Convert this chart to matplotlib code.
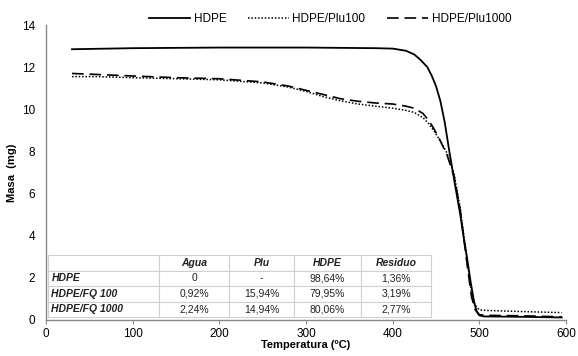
import matplotlib.pyplot as plt

plt.rcParams['font.family'] = ['Liberation Sans', 'DejaVu Sans']

# HDPE (linea continua)
t_hdpe = [30, 100, 200, 300, 380, 400, 415, 425, 432, 440, 445, 450, 455,
          460, 465, 472, 478, 482, 486, 490, 494, 497, 500, 505, 550, 595]
m_hdpe = [12.85, 12.9, 12.93, 12.93, 12.9, 12.88, 12.78, 12.6, 12.35, 12.0,
          11.6, 11.1, 10.4, 9.4, 8.1, 6.4, 5.0, 3.9, 2.9, 1.8, 0.85, 0.4,
          0.22, 0.17, 0.15, 0.12]

# HDPE/Plu100 (punteado) y HDPE/Plu1000 (discontinuo)
t_plu = [30, 60, 100, 150, 200, 250, 280, 300, 320, 340, 360, 380, 400, 415,
         425, 435, 442, 448, 455, 463, 471, 478, 486, 491, 495, 500, 510, 550,
         595]
m_plu100 = [11.55, 11.55, 11.5, 11.45, 11.4, 11.25, 11.05, 10.85, 10.6, 10.4,
            10.25, 10.15, 10.05, 9.95, 9.85, 9.6, 9.3, 8.95, 8.5, 7.9, 6.9,
            5.3, 2.8, 1.3, 0.7, 0.48, 0.45, 0.4, 0.35]
m_plu1000 = [11.7, 11.65, 11.58, 11.5, 11.45, 11.3, 11.1, 10.9, 10.7, 10.5,
             10.38, 10.3, 10.25, 10.15, 10.05, 9.8, 9.45, 9.05, 8.5, 7.8, 6.8,
             5.2, 2.6, 1.1, 0.5, 0.25, 0.22, 0.2, 0.15]

col_labels = ['', 'Agua', 'Plu', 'HDPE', 'Residuo']
row_labels = ['HDPE', 'HDPE/FQ 100', 'HDPE/FQ 1000']
agua = ['0', '0,92%', '2,24%']
plu = ['-', '15,94%', '14,94%']
hdpe = ['98,64%', '79,95%', '80,06%']
residuo = ['1,36%', '3,19%', '2,77%']

fig = plt.figure(figsize=(5.78, 3.56), dpi=100)
ax = fig.add_axes([46 / 578, 36 / 356, 520 / 578, 295 / 356])

ax.plot(t_hdpe, m_hdpe, color='black', lw=1.3, label='HDPE')
ax.plot(t_plu, m_plu100, color='black', lw=1.1, ls=(0, (1, 1.2)), label='HDPE/Plu100')
ax.plot(t_plu, m_plu1000, color='black', lw=1.2, ls=(0, (7, 3.5)), label='HDPE/Plu1000')

ax.set_xlim(0, 600)
ax.set_ylim(0, 14)
ax.set_xticks(range(0, 601, 100))
ax.set_yticks(range(0, 15, 2))
ax.tick_params(axis='x', direction='out', length=3, color='#888888', labelsize=8.5, pad=3)
ax.tick_params(axis='y', length=0, labelsize=8.5, pad=8)
for s in ['top', 'right']:
    ax.spines[s].set_visible(False)
for s in ['left', 'bottom']:
    ax.spines[s].set_color('#888888')
    ax.spines[s].set_linewidth(1)

ax.set_xlabel('Temperatura (ºC)', fontsize=8, fontweight='bold', labelpad=0)
ax.set_ylabel('Masa  (mg)', fontsize=8, fontweight='bold', labelpad=3)

fig.legend(loc='center', bbox_to_anchor=(330 / 578, 1 - 19 / 356), ncol=3,
           frameon=False, fontsize=8.5, handlelength=3.5, columnspacing=1.8,
           handletextpad=0.3)

cells = [[row_labels[i], agua[i], plu[i], hdpe[i], residuo[i]] for i in range(3)]
widths = [111, 70, 65, 67, 70]
tot = sum(widths)
tab = ax.table(cellText=[col_labels] + cells,
               colWidths=[w / tot for w in widths],
               bbox=[2 / 520, 3 / 295, 383 / 520, 62 / 295])
tab.auto_set_font_size(False)
for (r, c), cell in tab.get_celld().items():
    cell.set_edgecolor('#d0d0d0')
    cell.set_linewidth(0.8)
    cell.set_facecolor('white')
    txt = cell.get_text()
    txt.set_fontsize(7.5)
    txt.set_color('#222222')
    if r == 0 or c == 0:
        txt.set_fontweight('bold')
        txt.set_fontstyle('italic')
    if c == 0:
        cell.set_text_props(ha='left')
        cell.PAD = 0.03
    else:
        cell.set_text_props(ha='center')

fig.savefig('out.png', dpi=100)
